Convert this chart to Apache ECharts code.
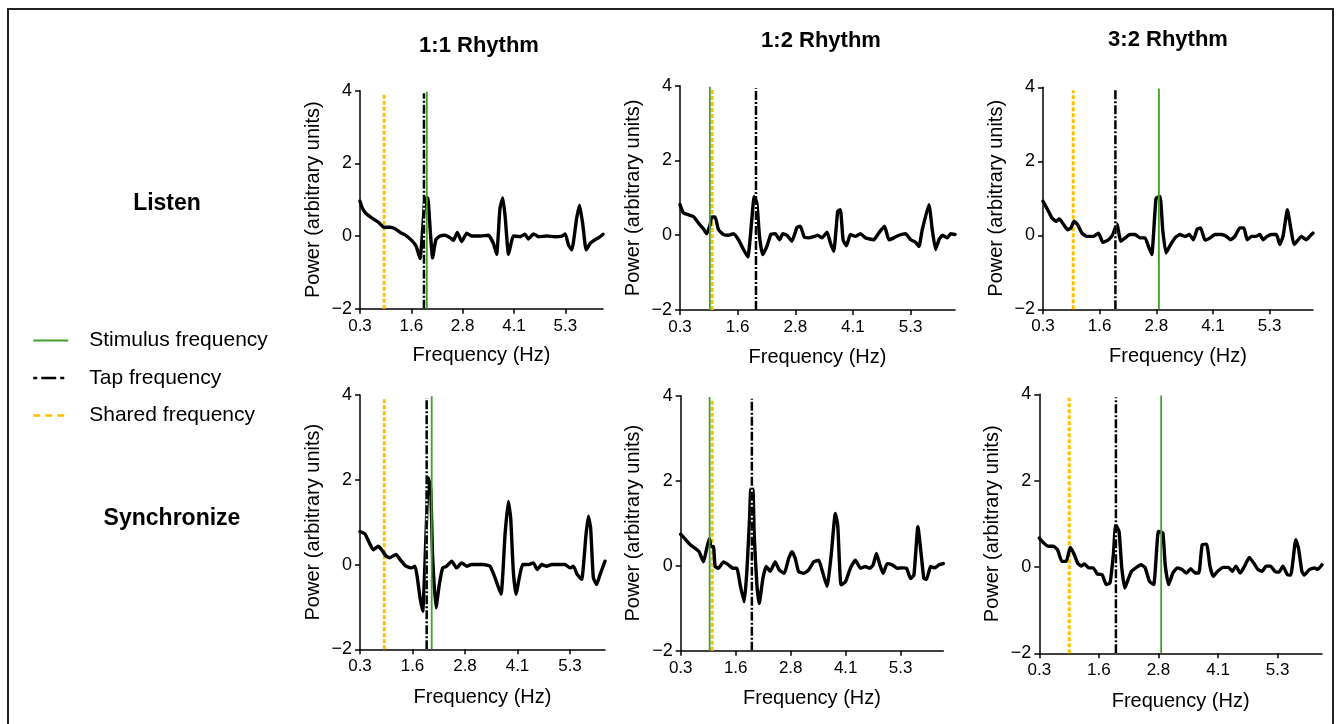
<!DOCTYPE html>
<html><head><meta charset="utf-8">
<script src="https://cdn.jsdelivr.net/npm/echarts@6/dist/echarts.min.js"></script>
<style>html,body{margin:0;padding:0;background:#fff}#c{width:1336px;height:724px}</style>
</head><body><div id="c"></div>
<script>
// ---------------- DATA ----------------
const rhythms = ['1:1 Rhythm', '1:2 Rhythm', '3:2 Rhythm'];
const conditions = ['Listen', 'Synchronize'];
const legendNames = ['Stimulus frequency', 'Tap frequency', 'Shared frequency'];
const xTickValues = [0.3125, 1.5625, 2.8125, 4.0625, 5.3125];
const xTickLabels = ['0.3', '1.6', '2.8', '4.1', '5.3'];
const yTickMin = -2, yTickMax = 4, yTickStep = 2;

// panel order: Listen 1:1, 1:2, 3:2, Synchronize 1:1, 1:2, 3:2
const freqL11 = [0.3125,0.377,0.459,0.597,0.76,0.897,1.04,1.165,1.29,1.41,1.57,1.68,1.775,1.84,1.90,1.96,2.02,2.08,2.16,2.26,2.38,2.51,2.59,2.68,2.79,2.91,3.03,3.24,3.44,3.56,3.64,3.72,3.79,3.85,3.93,4.05,4.21,4.33,4.41,4.54,4.66,4.86,5.06,5.23,5.31,5.39,5.47,5.59,5.66,5.74,5.82,5.92,6.04,6.12,6.23];
const powL11 = [0.96,0.75,0.62,0.50,0.38,0.24,0.24,0.20,0.10,0.03,-0.12,-0.28,-0.62,0.2,1.05,1.05,0.2,-0.6,-0.1,0.0,0.02,-0.05,-0.12,0.1,-0.15,0.08,0.0,0.0,0.02,-0.2,-0.5,0.75,1.05,0.5,-0.5,0.0,-0.02,0.05,-0.08,0.06,-0.02,0.0,-0.02,0.0,0.06,-0.25,-0.38,0.5,0.85,0.3,-0.38,-0.2,-0.1,-0.05,0.05];

const freqL12 = [0.3125,0.385,0.494,0.602,0.711,0.82,0.892,0.965,1.001,1.073,1.146,1.254,1.363,1.472,1.581,1.689,1.783,1.87,1.921,1.979,2.037,2.102,2.197,2.283,2.378,2.472,2.544,2.631,2.74,2.849,2.921,3.008,3.102,3.211,3.298,3.392,3.501,3.573,3.646,3.733,3.791,3.849,3.921,4.008,4.117,4.226,4.334,4.516,4.624,4.747,4.842,4.95,5.059,5.204,5.313,5.421,5.494,5.566,5.711,5.783,5.856,5.928,6.001,6.11,6.182,6.276];
const powL12 = [0.82,0.6,0.55,0.5,0.33,0.17,0.04,0.28,0.49,0.49,0.15,0.02,0,0.04,-0.12,-0.38,-0.58,0.42,1.04,0.86,-0.03,-0.52,-0.3,0.02,0.04,-0.12,0.04,0,-0.16,0.21,0.24,-0.05,-0.07,-0.04,0,-0.07,0.08,-0.2,-0.43,0.64,0.68,-0.12,-0.28,0.02,-0.03,0.04,-0.07,-0.12,0.06,0.24,-0.12,-0.07,0,0.04,-0.12,-0.19,-0.3,0.15,0.82,0.15,-0.38,-0.12,0,-0.07,0.04,0.02];

const freqL32 = [0.3125,0.415,0.511,0.599,0.672,0.767,0.855,0.929,0.998,1.076,1.171,1.281,1.428,1.538,1.633,1.758,1.853,1.941,2.029,2.125,2.235,2.345,2.455,2.565,2.638,2.712,2.807,2.895,2.954,3.027,3.115,3.225,3.335,3.445,3.541,3.629,3.717,3.79,3.886,3.996,4.106,4.252,4.362,4.45,4.546,4.656,4.744,4.818,4.913,5.008,5.096,5.17,5.257,5.353,5.463,5.536,5.609,5.705,5.778,5.852,5.94,6.013,6.123,6.196,6.27];
const powL32 = [0.92,0.69,0.47,0.38,0.44,0.29,0.15,0.2,0.38,0.29,0.06,-0.03,-0.03,0.06,-0.19,-0.12,0.02,0.31,-0.16,-0.07,0.02,0.02,-0.07,-0.07,-0.3,-0.52,1.0,1.05,0.15,-0.48,-0.28,-0.07,0.02,-0.03,0.02,-0.12,0.17,0.2,-0.13,-0.07,0.02,0.02,-0.03,-0.12,-0.03,0.2,0.2,-0.12,-0.03,-0.03,0.02,-0.12,-0.03,0.02,0.02,-0.25,-0.03,0.69,0.2,-0.25,-0.13,-0.03,-0.12,-0.03,0.06];

const freqS11 = [0.3125,0.432,0.535,0.63,0.749,0.828,0.932,1.027,1.17,1.265,1.408,1.543,1.622,1.678,1.741,1.805,1.884,1.94,1.995,2.043,2.122,2.201,2.281,2.376,2.495,2.614,2.733,2.852,2.971,3.09,3.249,3.408,3.527,3.67,3.765,3.844,3.9,3.963,4.027,4.106,4.185,4.32,4.44,4.535,4.638,4.757,4.876,5.035,5.193,5.312,5.392,5.487,5.59,5.693,5.749,5.804,5.868,5.947,6.027,6.146];
const powS11 = [0.78,0.72,0.51,0.35,0.43,0.35,0.2,0.16,0.24,0.12,-0.04,-0.08,-0.04,-0.31,-0.78,-1.1,0.7,2.04,1.8,0.16,-1.02,-0.47,-0.08,-0.04,0.08,-0.08,0.04,-0.04,0,0,0,-0.04,-0.31,-0.7,0.7,1.49,1.1,-0.16,-0.7,-0.31,0,0,0.04,-0.12,0,-0.04,0,0,0,-0.08,-0.04,-0.24,-0.35,0.7,1.14,0.86,-0.31,-0.47,-0.24,0.08];

const freqS12 = [0.3125,0.411,0.525,0.639,0.73,0.829,0.905,0.965,1.003,1.057,1.095,1.17,1.284,1.398,1.497,1.588,1.664,1.755,1.816,1.877,1.907,1.953,1.983,2.044,2.097,2.18,2.256,2.347,2.461,2.552,2.666,2.765,2.841,2.917,2.993,3.107,3.221,3.334,3.448,3.524,3.638,3.729,3.828,3.881,3.957,4.056,4.17,4.283,4.397,4.511,4.61,4.686,4.762,4.838,4.915,5.006,5.12,5.233,5.347,5.445,5.537,5.613,5.704,5.78,5.84,5.901,5.992,6.091,6.182,6.281];
const powS12 = [0.74,0.63,0.5,0.41,0.33,0.09,0.41,0.64,0.45,0.45,-0.02,-0.06,0.09,0.02,-0.06,-0.06,-0.45,-0.85,-0.14,1.11,1.8,1.8,0.72,-0.45,-0.89,-0.3,-0.02,-0.13,0.09,-0.1,-0.18,0.17,0.33,0.17,-0.14,-0.18,-0.1,0.09,0.13,-0.1,-0.49,0.21,1.23,0.96,-0.45,-0.38,-0.06,0.13,-0.06,-0.02,-0.06,0.02,0.29,0.02,-0.18,0.05,0.02,-0.06,-0.05,-0.06,-0.3,-0.22,0.92,0.25,-0.3,-0.32,-0.02,-0.05,0.02,0.05];

const freqS32 = [0.3125,0.411,0.503,0.609,0.694,0.786,0.877,0.962,1.033,1.118,1.188,1.259,1.351,1.442,1.527,1.633,1.718,1.796,1.867,1.916,1.986,2.043,2.106,2.177,2.247,2.339,2.445,2.53,2.622,2.714,2.812,2.904,2.954,3.024,3.116,3.208,3.307,3.399,3.49,3.582,3.66,3.731,3.822,3.893,3.964,4.055,4.175,4.281,4.366,4.437,4.529,4.62,4.719,4.811,4.902,4.987,5.072,5.164,5.256,5.341,5.425,5.517,5.588,5.694,5.75,5.821,5.871,5.977,6.083,6.153,6.244];
const powS32 = [0.67,0.55,0.48,0.48,0.4,0.13,0.13,0.45,0.32,0.09,0.02,0.07,-0.02,-0.02,-0.16,-0.18,-0.41,-0.37,0.29,0.98,0.82,-0.02,-0.49,-0.29,-0.1,-0.02,0.05,-0.01,-0.33,-0.41,0.82,0.79,0.05,-0.41,-0.14,-0.02,-0.06,-0.14,-0.04,-0.14,-0.14,0.52,0.53,0.02,-0.22,-0.1,-0.01,-0.01,-0.1,0.02,-0.14,0.02,0.22,0.09,-0.06,-0.1,0.02,0.02,-0.1,-0.12,0.02,-0.18,-0.19,0.63,0.44,-0.1,-0.19,-0.06,-0.02,-0.06,0.05];

// marker frequencies (Hz) per panel, in panel order
const stimFreq   = [1.94, 0.96, 2.87, 2.02, 0.97, 2.87];
const tapFreq    = [1.87, 1.96, 1.91, 1.90, 1.93, 1.92];
const sharedFreq = [0.90, 1.01, 0.98, 0.89, 1.03, 0.94];
const markerTop  = [3.97, 3.93, 3.92]; // stimulus, tap, shared line tops

// ---------------- LAYOUT / STYLE ----------------
const FONT = "'Liberation Sans', Arial, Helvetica, sans-serif";
const panelFreqs = [freqL11, freqL12, freqL32, freqS11, freqS12, freqS32];
const panelPows  = [powL11, powL12, powL32, powS11, powS12, powS32];
const gridBoxes = [
  {left: 360,    top: 90.7,  width: 243,   height: 218},
  {left: 680,    top: 85.7,  width: 275,   height: 224.3},
  {left: 1043,   top: 87.3,  width: 270,   height: 222},
  {left: 360,    top: 395,   width: 245,   height: 254.3},
  {left: 680.7,  top: 395.7, width: 262.6, height: 255},
  {left: 1039.3, top: 394.3, width: 282.7, height: 259}
];
const GREEN = '#43a02b', YELLOW = '#ffc000', BLACK = '#000';

const grids = [], xAxes = [], yAxes = [], series = [];
gridBoxes.forEach((g, i) => {
  grids.push(Object.assign({containLabel: false}, g));
  const top = i < 3;
  xAxes.push({
    type: 'value', gridIndex: i, min: xTickValues[0], max: 'dataMax',
    name: 'Frequency (Hz)', nameLocation: 'middle', nameGap: top ? 37 : 38,
    nameTextStyle: {fontSize: 20, color: BLACK, fontFamily: FONT},
    axisLine: {show: true, onZero: false, lineStyle: {color: BLACK, width: 1.5}},
    axisTick: {show: true, length: 5, customValues: xTickValues, lineStyle: {color: BLACK, width: 1.5}},
    axisLabel: {customValues: xTickValues, margin: 9, fontSize: 17, color: BLACK, fontFamily: FONT,
      formatter: v => { let k = 0, d = 1e9; xTickValues.forEach((t, j) => { if (Math.abs(t - v) < d) { d = Math.abs(t - v); k = j; } }); return xTickLabels[k]; }},
    splitLine: {show: false}
  });
  yAxes.push({
    type: 'value', gridIndex: i, min: yTickMin, max: yTickMax, interval: yTickStep,
    name: 'Power (arbitrary units)', nameLocation: 'middle', nameGap: 37, nameRotate: 90,
    nameTextStyle: {fontSize: 20, color: BLACK, fontFamily: FONT},
    axisLine: {show: true, lineStyle: {color: BLACK, width: 1.5}},
    axisTick: {show: true, length: 5, lineStyle: {color: BLACK, width: 1.5}},
    axisLabel: {margin: 8, fontSize: 18, color: BLACK, fontFamily: FONT,
      formatter: v => (v < 0 ? '\u2212' + Math.abs(v) : String(v))},
    splitLine: {show: false}
  });
  series.push({
    type: 'line', name: 'power', xAxisIndex: i, yAxisIndex: i, symbol: 'none', smooth: 0.15,
    data: panelFreqs[i].map((f, j) => [f, panelPows[i][j]]),
    lineStyle: {color: BLACK, width: 3.4, join: 'round', cap: 'round'}, z: 3, silent: true
  });
  series.push({
    type: 'line', name: legendNames[2], xAxisIndex: i, yAxisIndex: i, symbol: 'none',
    data: [[sharedFreq[i], yTickMin], [sharedFreq[i], markerTop[2]]],
    lineStyle: {color: YELLOW, width: 3, type: [4, 2]}, itemStyle: {color: YELLOW}, z: 2, silent: true
  });
  // white backing so the dash-dot gaps read as white over the curve
  series.push({
    type: 'line', name: 'tapBacking', xAxisIndex: i, yAxisIndex: i, symbol: 'none',
    data: [[tapFreq[i], yTickMin], [tapFreq[i], markerTop[1]]],
    lineStyle: {color: '#fff', width: 2}, z: 4, silent: true
  });
  series.push({
    type: 'line', name: legendNames[1], xAxisIndex: i, yAxisIndex: i, symbol: 'none',
    data: [[tapFreq[i], yTickMin], [tapFreq[i], markerTop[1]]],
    lineStyle: {color: BLACK, width: 2.5, type: [9, 2, 2, 2]}, itemStyle: {color: BLACK}, z: 4, silent: true
  });
  series.push({
    type: 'line', name: legendNames[0], xAxisIndex: i, yAxisIndex: i, symbol: 'none',
    data: [[stimFreq[i], yTickMin], [stimFreq[i], markerTop[0]]],
    lineStyle: {color: GREEN, width: 1.8}, itemStyle: {color: GREEN}, z: 5, silent: true
  });
});

const titlePos = [[479, 46], [821, 41], [1168, 40]];
const rowPos = [[167, 204], [172, 519]];
const graphics = [
  {type: 'rect', shape: {x: 8, y: 9, width: 1325, height: 760}, style: {fill: 'none', stroke: '#222', lineWidth: 2}, silent: true}
];
rhythms.forEach((t, i) => graphics.push({type: 'text', x: titlePos[i][0], y: titlePos[i][1],
  style: {text: t, font: 'bold 22px ' + FONT, fill: BLACK, align: 'center', verticalAlign: 'middle'}}));
conditions.forEach((t, i) => graphics.push({type: 'text', x: rowPos[i][0], y: rowPos[i][1],
  style: {text: t, font: 'bold 23px ' + FONT, fill: BLACK, align: 'center', verticalAlign: 'middle'}}));

const chart = echarts.init(document.getElementById('c'), null, {renderer: 'canvas'});
chart.setOption({
  animation: false,
  backgroundColor: '#fff',
  textStyle: {fontFamily: FONT},
  grid: grids, xAxis: xAxes, yAxis: yAxes, series: series,
  legend: {
    data: [
      {name: legendNames[0], lineStyle: {color: GREEN, width: 2, type: 'solid'}},
      {name: legendNames[1], lineStyle: {color: BLACK, width: 2.5, type: [4, 4, 15, 4]}},
      {name: legendNames[2], lineStyle: {color: YELLOW, width: 2.5, type: [7, 5]}}
    ],
    orient: 'vertical', left: 27, top: 325, itemWidth: 35, itemHeight: 14, itemGap: 16.5,
    selectedMode: false, itemStyle: {opacity: 0},
    textStyle: {fontSize: 21, color: BLACK, fontFamily: FONT, padding: [0, 0, 0, 16]}
  },
  graphic: graphics
});
</script></body></html>
